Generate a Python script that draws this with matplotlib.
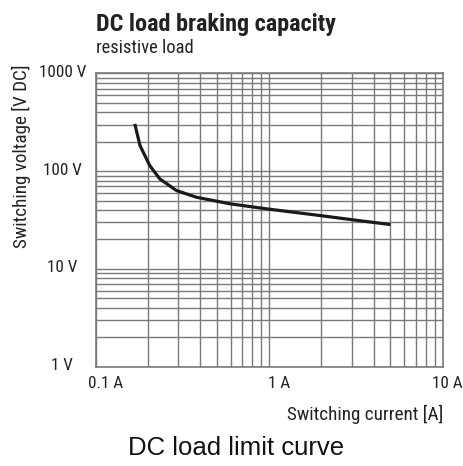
import matplotlib
matplotlib.use("Agg")
import matplotlib.pyplot as plt
import matplotlib.transforms as mtransforms
from matplotlib import font_manager
from matplotlib.font_manager import FontProperties
from matplotlib.ticker import LogLocator, NullFormatter

# DC load limit curve
current_a = [0.168, 0.180, 0.205, 0.234, 0.292, 0.382, 0.596, 0.97, 1.97, 3.06, 5.0]
voltage_v = [305, 183, 114, 83.4, 63.3, 54, 46.3, 41.1, 35.1, 31.7, 28.4]

x_ticks = [0.1, 1, 10]
x_tick_labels = ["0.1 A", "1 A", "10 A"]
y_ticks = [1, 10, 100, 1000]
y_tick_labels = ["1 V", "10 V", "100 V", "1000 V"]


def narrow_font(bold=False):
    # look for any condensed / narrow face that happens to be installed
    found = []
    for f in font_manager.fontManager.ttflist:
        tag = (f.name + " " + str(f.stretch) + " " + f.fname).lower()
        if "condensed" in tag or "narrow" in tag:
            if "mono" in tag or "serif" in tag and "sans" not in tag:
                continue
            w = f.weight if isinstance(f.weight, int) else (700 if "bold" in str(f.weight) else 400)
            if bold != (w >= 600):
                continue
            if "italic" in f.style or "oblique" in f.style or "italic" in f.fname.lower():
                continue
            found.append(f)
    if found:
        found.sort(key=lambda f: ("roboto" not in f.fname.lower(), "liberation" not in f.fname.lower(), f.fname))
        return found[0].fname
    return None


path_r = narrow_font(False)
path_b = narrow_font(True)


def fp(size, bold=False):
    path = path_b if bold else path_r
    if path:
        return FontProperties(fname=path, size=size)
    return FontProperties(family="DejaVu Sans", size=size * 0.85, stretch="condensed",
                          weight="bold" if bold else "normal")


W, H = 463, 466
fig = plt.figure(figsize=(W / 100, H / 100), dpi=100)
ax = fig.add_axes([95.7 / W, 99.5 / H, 347 / W, 293 / H])

ax.plot(current_a, voltage_v, color="#1a1a1a", lw=2.3, solid_capstyle="butt")

ax.set_xscale("log")
ax.set_yscale("log")
ax.set_xlim(0.1, 10)
ax.set_ylim(1, 1000)

grid_col = "#7a7a7a"
ax.xaxis.set_minor_locator(LogLocator(base=10, subs=range(2, 10)))
ax.yaxis.set_minor_locator(LogLocator(base=10, subs=range(2, 10)))
ax.xaxis.set_minor_formatter(NullFormatter())
ax.yaxis.set_minor_formatter(NullFormatter())
ax.grid(True, which="both", color=grid_col, lw=1.0)
ax.set_axisbelow(True)
for s in ax.spines.values():
    s.set_color(grid_col)
    s.set_linewidth(1.2)
ax.tick_params(which="both", length=0)

ax.set_xticks(x_ticks)
ax.set_xticklabels(x_tick_labels, fontproperties=fp(12.3), color="#222222", ha="left")
ax.set_yticks(y_ticks)
ax.set_yticklabels(y_tick_labels, fontproperties=fp(12.3), color="#222222", ha="center")
ax.tick_params(axis="x", pad=7)
ax.tick_params(axis="y", pad=24)

# numbers centred on the tick, unit hanging to the right (last one kept inside the figure)
shifts = [-7.5, -1.5, -11]
for lab, dx in zip(ax.get_xticklabels(), shifts):
    lab.set_transform(lab.get_transform() + mtransforms.ScaledTranslation(dx / 100, 0, fig.dpi_scale_trans))
for lab in ax.get_yticklabels():
    lab.set_transform(lab.get_transform() + mtransforms.ScaledTranslation(0, 2.5 / 100, fig.dpi_scale_trans))

fig.text(96 / W, 1 - 31 / H, "DC load braking capacity", fontproperties=fp(17.4, True),
         color="#222222", va="baseline", ha="left")
fig.text(96 / W, 1 - 53 / H, "resistive load", fontproperties=fp(13.3),
         color="#222222", va="baseline", ha="left")
fig.text(21.5 / W, 1 - 65 / H, "Switching voltage [V DC]", fontproperties=fp(13.8),
         color="#222222", rotation=90, va="top", ha="center")
fig.text(443 / W, 1 - 420 / H, "Switching current [A]", fontproperties=fp(13.8),
         color="#222222", va="baseline", ha="right")
fig.text(236 / W, 1 - 455 / H, "DC load limit curve", family=["Liberation Sans", "DejaVu Sans"],
         fontsize=18.5, color="#111111", va="baseline", ha="center")

fig.savefig("out.png", dpi=100)
